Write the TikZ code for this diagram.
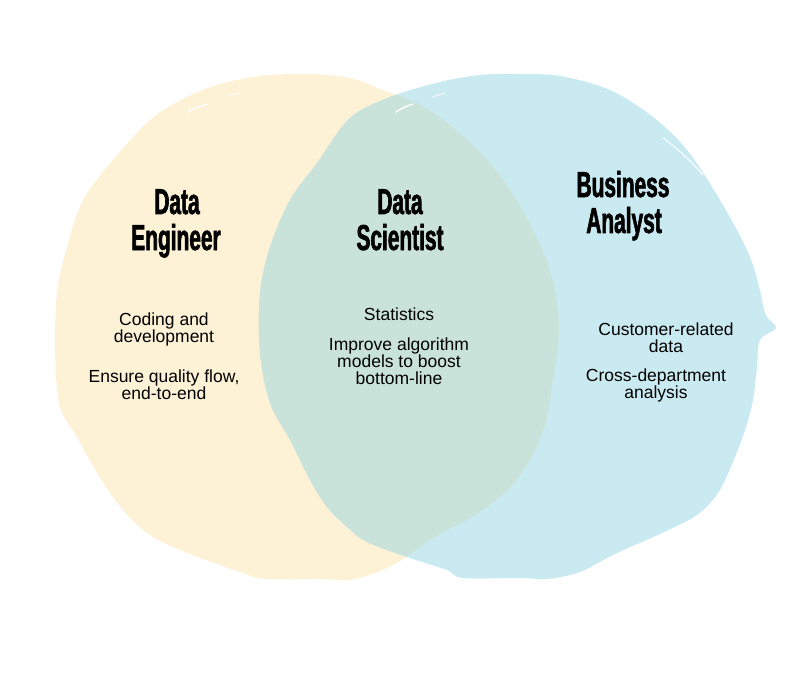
\documentclass[tikz,border=0pt]{standalone}
\usepackage{fontspec}
\setmainfont{Liberation Sans}
\newfontfamily\titlefont[FakeStretch=0.58,FakeBold=1.6]{Liberation Sans}
\definecolor{yel}{RGB}{253,242,214}
\definecolor{blu}{RGB}{202,234,241}
\definecolor{ovl}{RGB}{202,227,218}
\begin{document}
\begin{tikzpicture}[x=1pt,y=-1pt,
  title/.style={font={\titlefont\bfseries\fontsize{36}{36}\selectfont}, anchor=base, inner sep=0pt},
  body/.style={font={\fontsize{17.5}{17.5}\selectfont}, anchor=base, inner sep=0pt},
  streak/.style={white, line width=1.4pt, line cap=round}]
\useasboundingbox (0,0) rectangle (800,695);
\path[save path=\ypath] plot[smooth cycle, tension=0.55] coordinates {
 (260,76) (307,74) (350,78) (383,90) (417,103) (450,125) (480,152) (507,185)
 (533,230) (550,270) (558,310) (558,345) (552,387) (545,425) (530,460) (508,490)
 (475,515) (435,537) (405,558) (380,571) (350,580) (320,579) (265,579) (240,572)
 (185,552) (150,535) (123,510) (97,473) (77,437) (60,407) (55,353) (57,293)
 (67,247) (83,200) (113,160) (150,120) (183,99) (217,85)};
\path[save path=\bpath] plot[smooth cycle, tension=0.55] coordinates {
 (480,75) (517,74) (560,76) (610,90) (653,117) (687,150) (720,200) (747,250)
 (760,287) (766,315) (776,328) (760,340) (757,367) (753,400) (745,430) (733,462)
 (718,493) (697,515) (662,533) (615,554) (580,572) (547,579) (523,578) (463,578)
 (447,570) (410,558) (367,542) (347,527) (327,507) (310,480) (290,440) (270,403)
 (260,353) (260,293) (270,247) (290,200) (317,163) (350,118) (390,97) (440,82)};
\fill[yel, use path=\ypath];
\fill[blu, use path=\bpath];
\begin{scope}
  \clip[use path=\ypath];
  \fill[ovl, use path=\bpath];
\end{scope}
% brush streaks
\draw[streak] (188,112) to[bend left=8] (208,104);
\draw[streak, line width=0.8pt] (228,96) -- (240,93);
\draw[streak] (396,112) to[bend left=8] (413,104);
\draw[streak, line width=0.8pt] (432,97) -- (445,93);
\draw[streak, line width=1pt] (663,138) to[bend left=6] (703,175);
\draw[streak, line width=1pt] (740,225) to[bend left=5] (765,312);
% titles
\node[title] (deA) at (177,214) {Data};
\node[title] (deB) at (176,250) {Engineer};
\node[title] (dsA) at (400,214) {Data};
\node[title] (dsB) at (400,250) {Scientist};
\node[title] (baA) at (623,197) {Business};
\node[title] (baB) at (624,233) {Analyst};
% body texts
\node[body] (e1) at (164,325) {Coding and};
\node[body] (e2) at (164,342) {development};
\node[body] (e3) at (164,382) {Ensure quality flow,};
\node[body] (e4) at (164,399) {end-to-end};
\node[body] (s1) at (399,320) {Statistics};
\node[body] (s2) at (399,350) {Improve algorithm};
\node[body] (s3) at (399,367) {models to boost};
\node[body] (s4) at (399,384) {bottom-line};
\node[body] (b1) at (666,335) {Customer-related};
\node[body] (b2) at (666,352) {data};
\node[body] (b3) at (656,381) {Cross-department};
\node[body] (b4) at (656,398) {analysis};
\end{tikzpicture}
\end{document}
